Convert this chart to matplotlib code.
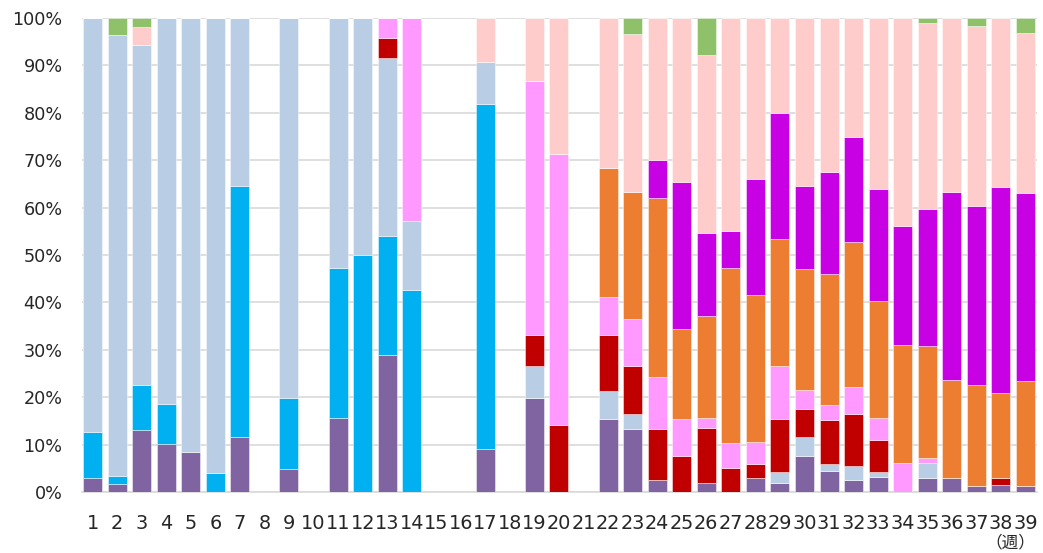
import matplotlib
matplotlib.use('Agg')
from matplotlib import pyplot as plt
import numpy as np

weeks = [str(w) for w in range(1, 40)]

# share of each virus per week (%), bottom to top of the stack
purple = [3.0, 1.6, 13.0, 10.2, 8.5, 0, 11.6, 0, 4.9, 0,
          15.7, 0, 29.0, 0, 0, 0, 9.0, 0, 19.9, 0,
          0, 15.5, 13.2, 2.6, 0, 1.8, 0, 3.0, 2.0, 7.6,
          4.4, 2.5, 3.2, 0, 2.9, 3.0, 1.3, 1.4, 1.3]
cyan = [9.6, 1.7, 9.5, 8.3, 0, 4.0, 53.0, 0, 15.0, 0,
        31.6, 50.0, 25.1, 42.6, 0, 0, 72.8, 0, 0, 0,
        0, 0, 0, 0, 0, 0, 0, 0, 0, 0,
        0, 0, 0, 0, 0, 0, 0, 0, 0]
light_blue = [87.4, 93.2, 71.7, 81.5, 91.5, 96.0, 35.4, 0, 80.1, 0,
              52.7, 50.0, 37.5, 14.6, 0, 0, 9.0, 0, 6.6, 0,
              0, 5.8, 3.3, 0, 0, 0, 0, 0, 2.2, 4.0,
              1.6, 2.9, 1.1, 0, 3.2, 0, 0, 0, 0]
dark_red = [0, 0, 0, 0, 0, 0, 0, 0, 0, 0,
            0, 0, 4.2, 0, 0, 0, 0, 0, 6.6, 14.1,
            0, 11.8, 10.0, 10.7, 7.5, 11.7, 5.1, 3.0, 11.2, 5.9,
            9.2, 11.0, 6.7, 0, 0, 0, 0, 1.6, 0]
pink = [0, 0, 0, 0, 0, 0, 0, 0, 0, 0,
        0, 0, 4.2, 42.8, 0, 0, 0, 0, 53.5, 57.2,
        0, 8.0, 10.0, 10.9, 7.8, 2.1, 5.3, 4.6, 11.2, 4.0,
        3.1, 5.7, 4.6, 6.1, 1.0, 0, 0, 0, 0]
orange = [0, 0, 0, 0, 0, 0, 0, 0, 0, 0,
          0, 0, 0, 0, 0, 0, 0, 0, 0, 0,
          0, 27.3, 26.7, 37.9, 19.1, 21.6, 36.9, 30.9, 26.7, 25.5,
          27.7, 30.6, 24.7, 25.0, 23.7, 20.7, 21.2, 17.8, 22.1]
magenta = [0, 0, 0, 0, 0, 0, 0, 0, 0, 0,
           0, 0, 0, 0, 0, 0, 0, 0, 0, 0,
           0, 0, 0, 8.0, 30.9, 17.5, 7.8, 24.6, 26.6, 17.6,
           21.5, 22.2, 23.6, 25.0, 28.9, 39.6, 37.9, 43.6, 39.7]
light_pink = [0, 0, 3.9, 0, 0, 0, 0, 0, 0, 0,
              0, 0, 0, 0, 0, 0, 9.2, 0, 13.4, 28.7,
              0, 31.6, 33.5, 29.9, 34.7, 37.5, 44.9, 33.9, 20.1, 35.4,
              32.5, 25.1, 36.1, 43.9, 39.2, 36.7, 38.0, 35.6, 33.8]
green = [0, 3.5, 1.9, 0, 0, 0, 0, 0, 0, 0,
         0, 0, 0, 0, 0, 0, 0, 0, 0, 0,
         0, 0, 3.3, 0, 0, 7.8, 0, 0, 0, 0,
         0, 0, 0, 0, 1.1, 0, 1.6, 0, 3.1]

series = [purple, cyan, light_blue, dark_red, pink, orange, magenta, light_pink, green]
colors = ['#8064A2', '#00B0F0', '#B9CDE5', '#C00000', '#FF99FF',
          '#ED7D31', '#C800E4', '#FFCCCC', '#8FC16A']

fig = plt.figure(figsize=(10.43, 5.53), dpi=100)
ax = fig.add_axes([0.0786, 0.1103, 0.9156, 0.8572])

x = np.arange(1, 40)
bottom = np.zeros(len(x))
for vals, col in zip(series, colors):
    vals = np.array(vals) / 100.0
    ax.bar(x, vals, width=0.775, bottom=bottom, color=col,
           edgecolor=(1, 1, 1, 0.45), linewidth=0.7, zorder=3)
    bottom += vals

ax.set_xlim(0.57, 39.47)
ax.set_ylim(0, 1)
ax.set_yticks(np.arange(0, 1.01, 0.1))
ax.set_yticklabels(['%d%%' % v for v in range(0, 101, 10)], fontsize=12.7, color='#262626')
ax.set_xticks(x)
ax.set_xticklabels(weeks, fontsize=13.9, color='#262626')
ax.tick_params(axis='y', length=0, pad=14)
ax.tick_params(axis='x', length=0, pad=16)

ax.grid(axis='y', color='#D9D9D9', linewidth=1.2, zorder=0)
for s in ['top', 'right', 'left']:
    ax.spines[s].set_visible(False)
ax.spines['bottom'].set_color('#D9D9D9')
ax.spines['bottom'].set_linewidth(1.2)

fig.text(1010 / 1043, 1 - 543 / 553, '（週）', ha='center', va='center',
         fontsize=12, color='#262626', family=['Noto Sans CJK JP', 'DejaVu Sans'])

fig.savefig('out.png', dpi=100)
